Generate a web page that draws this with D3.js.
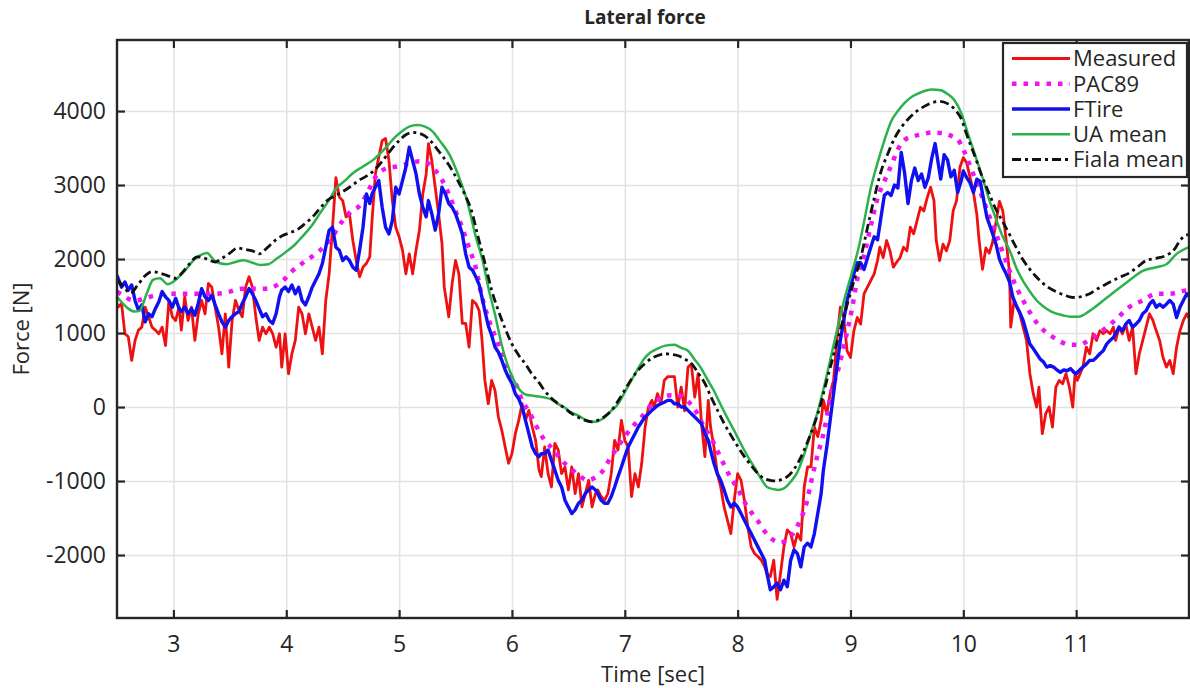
<!DOCTYPE html>
<html>
<head>
<meta charset="utf-8">
<script src="https://cdn.jsdelivr.net/npm/d3@7/dist/d3.min.js"></script>
<style>
  body { margin: 0; background: #fff; }
  text { font-family: "Open Sans", sans-serif; fill: #262626; }
</style>
</head>
<body>
<div id="chart"></div>
<script>
// ---- data: [time (s), force (N)] ----
const measured = [
  [2.50,1400],[2.51,1350],[2.54,1400],[2.57,990],[2.60,950],[2.63,630],[2.66,900],[2.69,1040],[2.72,1080],[2.75,1350],
  [2.78,1220],[2.81,1080],[2.84,1040],[2.87,990],[2.90,1080],[2.93,830],[2.96,1440],[2.99,1220],[3.02,1170],[3.05,1350],
  [3.07,1040],[3.10,1490],[3.13,1170],[3.16,1350],[3.19,900],[3.22,1260],[3.25,1440],[3.28,1260],[3.31,1670],[3.34,1620],
  [3.37,1350],[3.40,1080],[3.43,720],[3.46,1260],[3.49,540],[3.52,1170],[3.55,1440],[3.58,1310],[3.61,1220],[3.64,1620],
  [3.67,1760],[3.70,1620],[3.73,1220],[3.76,900],[3.79,1080],[3.82,990],[3.85,1080],[3.88,990],[3.91,810],[3.94,990],
  [3.96,540],[3.99,990],[4.02,450],[4.05,720],[4.08,900],[4.11,1350],[4.14,1260],[4.17,990],[4.20,1260],[4.23,1080],
  [4.26,900],[4.29,1080],[4.32,720],[4.35,1440],[4.38,1800],[4.41,2430],[4.44,3100],[4.47,2840],[4.50,2790],[4.53,2570],
  [4.56,2610],[4.59,2250],[4.62,1980],[4.65,1760],[4.68,1890],[4.71,1940],[4.74,2030],[4.76,2520],[4.79,3150],[4.82,3380],
  [4.85,3600],[4.88,3630],[4.91,3330],[4.94,2790],[4.97,2430],[5.00,2300],[5.03,2120],[5.06,1800],[5.09,2070],[5.12,1800],
  [5.15,2120],[5.18,2390],[5.21,2880],[5.24,3150],[5.26,3560],[5.29,3330],[5.32,2970],[5.35,2610],[5.38,2210],[5.40,1620],
  [5.44,1220],[5.47,1670],[5.50,1980],[5.53,1800],[5.56,1130],[5.59,1130],[5.62,810],[5.65,1440],[5.68,1400],[5.71,1300],
  [5.735,900],[5.76,360],[5.79,45],[5.82,360],[5.85,225],[5.88,-135],[5.91,-315],[5.94,-540],[5.97,-760],[6.00,-630],
  [6.03,-360],[6.06,-180],[6.09,45],[6.12,-180],[6.15,-45],[6.18,-270],[6.21,-450],[6.24,-850],[6.26,-940],[6.29,-540],
  [6.32,-900],[6.35,-1080],[6.38,-490],[6.41,-580],[6.44,-900],[6.47,-810],[6.50,-1120],[6.53,-810],[6.56,-1170],[6.59,-900],
  [6.62,-1350],[6.65,-1170],[6.68,-990],[6.71,-1350],[6.74,-1170],[6.76,-1120],[6.79,-1210],[6.82,-1260],[6.85,-1170],[6.88,-900],
  [6.91,-450],[6.94,-580],[6.97,-180],[7.00,-450],[7.03,-540],[7.06,-1210],[7.09,-900],[7.12,-1080],[7.15,-760],[7.18,-270],
  [7.21,0],[7.24,90],[7.26,0],[7.29,180],[7.32,45],[7.35,360],[7.38,410],[7.41,410],[7.44,410],[7.47,0],
  [7.50,270],[7.53,-50],[7.56,540],[7.59,580],[7.62,135],[7.65,450],[7.68,-225],[7.71,-670],[7.74,90],[7.76,-270],
  [7.79,-540],[7.82,-900],[7.85,-1080],[7.88,-1350],[7.91,-1530],[7.94,-1710],[7.97,-1260],[8.00,-900],[8.03,-990],[8.06,-1260],
  [8.09,-1620],[8.12,-1890],[8.15,-1980],[8.18,-2020],[8.21,-2070],[8.24,-2160],[8.26,-2250],[8.29,-2290],[8.32,-2070],[8.35,-2600],
  [8.38,-2250],[8.41,-1890],[8.44,-1660],[8.47,-1710],[8.50,-1890],[8.53,-1710],[8.56,-1800],[8.59,-1080],[8.62,-810],[8.65,-810],
  [8.68,-270],[8.71,-400],[8.74,-180],[8.76,90],[8.79,-90],[8.82,180],[8.85,360],[8.88,900],[8.91,1350],[8.94,1210],
  [8.97,760],[9.00,670],[9.03,1030],[9.06,1210],[9.09,1120],[9.12,1530],[9.15,1620],[9.18,1710],[9.21,1800],[9.24,1980],
  [9.26,2160],[9.29,2020],[9.32,2250],[9.35,2110],[9.38,1890],[9.41,1960],[9.44,2020],[9.47,2160],[9.50,2110],[9.53,2430],
  [9.56,2340],[9.59,2520],[9.62,2700],[9.65,2650],[9.68,2830],[9.71,2970],[9.74,2790],[9.76,2250],[9.79,1980],[9.82,2200],
  [9.85,2110],[9.88,2250],[9.91,2650],[9.94,2790],[9.97,3240],[10.00,3370],[10.03,3300],[10.06,3100],[10.09,2900],[10.12,2600],
  [10.14,2250],[10.17,1860],[10.20,2150],[10.23,2080],[10.26,2230],[10.29,2500],[10.32,2780],[10.35,2650],[10.38,2250],[10.41,1800],
  [10.42,1080],[10.45,1440],[10.50,1260],[10.56,900],[10.59,450],[10.62,180],[10.65,0],[10.67,270],[10.70,-360],[10.73,-90],
  [10.76,0],[10.79,-270],[10.82,270],[10.85,360],[10.88,315],[10.91,450],[10.94,270],[10.97,0],[10.99,450],[11.01,360],
  [11.06,540],[11.09,810],[11.12,720],[11.15,990],[11.18,900],[11.21,1030],[11.24,990],[11.27,1030],[11.30,990],[11.33,1080],
  [11.35,900],[11.38,1080],[11.41,990],[11.44,1120],[11.47,900],[11.50,1080],[11.53,450],[11.56,720],[11.59,900],[11.62,1080],
  [11.65,1260],[11.68,1170],[11.71,1030],[11.74,900],[11.77,670],[11.80,540],[11.83,630],[11.86,450],[11.89,810],[11.92,1030],
  [11.95,1170],[11.98,1260],[12.00,1200]
];

const pac89 = [
  [2.50,1560],[2.56,1500],[2.62,1450],[2.67,1440],[2.75,1470],[2.84,1510],[2.95,1530],[3.07,1530],[3.20,1530],[3.37,1530],
  [3.50,1560],[3.60,1600],[3.72,1600],[3.82,1600],[3.92,1650],[3.98,1720],[4.04,1820],[4.14,1940],[4.26,2070],[4.35,2190],
  [4.42,2330],[4.50,2520],[4.58,2650],[4.65,2720],[4.72,2900],[4.80,3130],[4.88,3220],[4.98,3250],[5.08,3290],[5.18,3320],
  [5.26,3290],[5.32,3200],[5.38,3070],[5.44,2880],[5.50,2650],[5.56,2420],[5.62,2150],[5.68,1880],[5.73,1520],[5.79,1200],
  [5.85,960],[5.91,720],[5.97,470],[6.03,330],[6.09,90],[6.15,-60],[6.21,-240],[6.29,-450],[6.37,-580],[6.44,-720],
  [6.52,-830],[6.60,-930],[6.67,-990],[6.73,-960],[6.79,-890],[6.88,-670],[6.94,-530],[7.00,-400],[7.06,-280],[7.14,-150],
  [7.24,30],[7.32,120],[7.41,160],[7.50,150],[7.56,80],[7.64,-80],[7.71,-290],[7.76,-400],[7.82,-590],[7.88,-780],
  [7.94,-960],[8.00,-1100],[8.06,-1280],[8.12,-1420],[8.18,-1540],[8.24,-1680],[8.30,-1780],[8.38,-1830],[8.47,-1750],[8.56,-1510],
  [8.61,-1300],[8.65,-1020],[8.70,-700],[8.77,-300],[8.83,200],[8.89,500],[8.95,880],[9.01,1300],[9.07,1800],[9.12,2050],
  [9.18,2450],[9.24,2820],[9.30,3050],[9.36,3260],[9.42,3480],[9.48,3610],[9.56,3660],[9.65,3690],[9.72,3710],[9.83,3700],
  [9.90,3660],[9.95,3620],[10.00,3480],[10.05,3300],[10.11,3060],[10.17,2830],[10.23,2580],[10.29,2340],[10.35,2090],[10.41,1840],
  [10.47,1620],[10.53,1440],[10.59,1280],[10.65,1140],[10.71,1040],[10.78,960],[10.88,870],[10.95,840],[11.02,840],[11.12,910],
  [11.24,1040],[11.35,1180],[11.47,1350],[11.59,1440],[11.71,1530],[11.83,1530],[11.95,1570],[12.00,1580]
];

const ftire = [
  [2.50,1780],[2.54,1620],[2.57,1690],[2.60,1580],[2.63,1650],[2.66,1440],[2.69,1310],[2.72,1380],[2.75,1150],[2.78,1260],
  [2.81,1220],[2.84,1330],[2.87,1420],[2.90,1560],[2.93,1490],[2.96,1440],[2.99,1350],[3.02,1470],[3.05,1330],[3.07,1290],
  [3.10,1350],[3.13,1260],[3.16,1330],[3.19,1240],[3.22,1400],[3.25,1600],[3.28,1490],[3.31,1440],[3.34,1510],[3.37,1380],
  [3.40,1260],[3.43,1150],[3.46,1080],[3.49,1170],[3.52,1220],[3.55,1260],[3.58,1290],[3.61,1400],[3.64,1490],[3.67,1600],
  [3.70,1530],[3.73,1440],[3.76,1330],[3.79,1220],[3.82,1260],[3.85,1170],[3.88,1130],[3.91,1260],[3.94,1490],[3.96,1580],
  [3.99,1620],[4.02,1560],[4.05,1650],[4.08,1530],[4.11,1620],[4.14,1440],[4.17,1380],[4.20,1490],[4.23,1620],[4.26,1710],
  [4.29,1800],[4.32,1940],[4.35,2160],[4.38,2390],[4.41,2430],[4.44,2160],[4.47,2120],[4.50,1980],[4.53,2030],[4.56,1980],
  [4.59,1890],[4.62,1850],[4.65,2120],[4.68,2430],[4.71,2880],[4.74,2750],[4.76,2880],[4.79,2970],[4.82,3060],[4.85,2700],
  [4.88,2430],[4.91,2340],[4.94,2520],[4.97,2970],[5.00,2880],[5.03,3060],[5.06,3240],[5.09,3510],[5.12,3330],[5.15,3150],
  [5.18,2880],[5.21,2700],[5.24,2570],[5.26,2790],[5.29,2610],[5.32,2390],[5.35,2610],[5.38,2970],[5.41,2880],[5.44,2750],
  [5.47,2700],[5.50,2610],[5.53,2480],[5.56,2340],[5.59,2070],[5.62,1890],[5.65,1850],[5.68,1760],[5.71,1650],[5.74,1440],
  [5.76,1300],[5.79,1100],[5.82,970],[5.85,810],[5.88,740],[5.91,630],[5.94,500],[5.97,400],[6.00,320],[6.03,180],
  [6.06,110],[6.09,0],[6.12,-180],[6.15,-360],[6.18,-540],[6.21,-630],[6.24,-670],[6.26,-630],[6.29,-630],[6.32,-580],
  [6.35,-720],[6.38,-850],[6.41,-990],[6.44,-1080],[6.47,-1260],[6.50,-1350],[6.53,-1440],[6.56,-1390],[6.59,-1300],[6.62,-1260],
  [6.65,-1170],[6.68,-1120],[6.71,-1080],[6.74,-1120],[6.76,-1170],[6.79,-1260],[6.82,-1300],[6.85,-1300],[6.88,-1210],[6.91,-1080],
  [6.94,-940],[6.97,-810],[7.00,-670],[7.03,-540],[7.06,-450],[7.09,-360],[7.12,-270],[7.15,-200],[7.18,-135],[7.21,-90],
  [7.24,-45],[7.26,-20],[7.29,20],[7.32,45],[7.35,65],[7.38,90],[7.41,90],[7.44,45],[7.47,45],[7.50,0],
  [7.53,0],[7.56,-45],[7.59,-90],[7.62,-135],[7.65,-180],[7.68,-225],[7.71,-360],[7.74,-450],[7.76,-580],[7.79,-760],
  [7.82,-900],[7.85,-990],[7.88,-1120],[7.91,-1260],[7.94,-1350],[7.97,-1300],[8.00,-1350],[8.03,-1440],[8.06,-1530],[8.09,-1620],
  [8.12,-1710],[8.15,-1800],[8.18,-1890],[8.21,-1980],[8.24,-2070],[8.26,-2250],[8.29,-2470],[8.32,-2430],[8.35,-2380],[8.38,-2470],
  [8.41,-2340],[8.44,-2430],[8.47,-2070],[8.50,-1930],[8.53,-1980],[8.56,-2160],[8.59,-1890],[8.62,-1840],[8.65,-1890],[8.68,-1710],
  [8.71,-1440],[8.74,-1170],[8.76,-850],[8.79,-540],[8.82,-180],[8.85,180],[8.88,540],[8.91,900],[8.94,1170],[8.97,1440],
  [9.00,1620],[9.03,1800],[9.06,1950],[9.09,1950],[9.12,1860],[9.15,2010],[9.18,2160],[9.21,2300],[9.24,2260],[9.27,2560],
  [9.30,2860],[9.33,2900],[9.36,2860],[9.39,3000],[9.42,2960],[9.45,3440],[9.48,3160],[9.51,2750],[9.54,3060],[9.57,3230],
  [9.60,3060],[9.63,3150],[9.66,2970],[9.69,3100],[9.72,3360],[9.75,3560],[9.78,3270],[9.80,3080],[9.83,3410],[9.86,3340],
  [9.89,3110],[9.92,3200],[9.95,2900],[9.98,3050],[10.00,3190],[10.03,3100],[10.06,3030],[10.09,2900],[10.12,3080],[10.15,3050],
  [10.18,2800],[10.21,2560],[10.24,2430],[10.26,2340],[10.29,2200],[10.32,2000],[10.35,1890],[10.38,1800],[10.41,1690],[10.44,1480],
  [10.47,1370],[10.50,1280],[10.53,1170],[10.56,1010],[10.59,850],[10.62,790],[10.65,720],[10.68,650],[10.71,610],[10.74,540],
  [10.77,560],[10.80,540],[10.83,500],[10.86,470],[10.89,500],[10.92,490],[10.95,520],[10.98,470],[11.00,450],[11.03,500],
  [11.06,540],[11.09,580],[11.12,630],[11.15,630],[11.18,670],[11.21,720],[11.24,760],[11.27,850],[11.30,900],[11.33,940],
  [11.35,990],[11.38,1080],[11.41,1030],[11.44,1120],[11.47,1170],[11.50,1080],[11.53,1120],[11.56,1170],[11.59,1260],[11.62,1300],
  [11.65,1390],[11.68,1440],[11.71,1350],[11.74,1390],[11.77,1350],[11.80,1390],[11.83,1440],[11.86,1390],[11.89,1210],[11.92,1350],
  [11.95,1440],[11.98,1530],[12.00,1500]
];

const uaMean = [
  [2.50,1490],[2.55,1400],[2.60,1330],[2.66,1290],[2.70,1300],[2.76,1520],[2.82,1720],[2.88,1740],[2.95,1660],[3.02,1720],
  [3.10,1840],[3.19,2000],[3.25,2060],[3.30,2080],[3.34,2020],[3.38,1960],[3.47,1930],[3.55,1960],[3.62,1985],[3.70,1950],
  [3.77,1920],[3.84,1930],[3.92,2010],[4.00,2100],[4.08,2200],[4.14,2300],[4.22,2440],[4.30,2620],[4.38,2800],[4.44,2950],
  [4.52,3060],[4.59,3160],[4.68,3250],[4.77,3340],[4.89,3520],[4.96,3640],[5.02,3720],[5.09,3790],[5.16,3810],[5.23,3790],
  [5.30,3720],[5.36,3600],[5.45,3400],[5.52,3150],[5.60,2800],[5.68,2300],[5.74,1980],[5.80,1550],[5.85,1250],[5.90,900],
  [5.95,620],[6.00,420],[6.06,250],[6.12,170],[6.20,150],[6.29,130],[6.34,110],[6.41,40],[6.46,0],[6.53,-80],
  [6.58,-110],[6.65,-170],[6.70,-195],[6.74,-200],[6.79,-170],[6.82,-140],[6.88,-50],[6.93,20],[7.00,200],[7.05,340],
  [7.11,500],[7.17,650],[7.23,740],[7.29,790],[7.36,830],[7.44,840],[7.50,800],[7.56,760],[7.62,640],[7.67,540],
  [7.73,380],[7.79,220],[7.85,30],[7.91,-150],[7.97,-320],[8.03,-500],[8.09,-670],[8.15,-820],[8.20,-950],[8.26,-1080],
  [8.32,-1110],[8.36,-1120],[8.41,-1100],[8.47,-1010],[8.53,-880],[8.59,-640],[8.65,-350],[8.71,-60],[8.77,300],[8.83,700],
  [8.89,1100],[8.95,1480],[9.01,1800],[9.07,2140],[9.12,2500],[9.18,2960],[9.24,3300],[9.30,3600],[9.36,3860],[9.42,4000],
  [9.48,4110],[9.55,4200],[9.62,4250],[9.72,4290],[9.80,4280],[9.86,4230],[9.92,4150],[9.98,3980],[10.05,3650],[10.11,3380],
  [10.17,3100],[10.23,2800],[10.29,2540],[10.35,2300],[10.41,2120],[10.47,1880],[10.53,1700],[10.59,1560],[10.65,1440],[10.71,1360],
  [10.78,1290],[10.88,1240],[10.95,1220],[11.02,1220],[11.12,1300],[11.24,1440],[11.35,1570],[11.47,1710],[11.59,1840],[11.71,1890],
  [11.80,1930],[11.89,2070],[12.00,2160]
];

const fialaMean = [
  [2.50,1720],[2.56,1620],[2.62,1540],[2.68,1640],[2.74,1760],[2.81,1830],[2.88,1810],[2.94,1780],[3.02,1740],[3.08,1820],
  [3.14,1930],[3.21,2030],[3.26,2020],[3.31,1990],[3.37,1960],[3.43,2010],[3.50,2080],[3.57,2150],[3.63,2130],[3.70,2110],
  [3.76,2070],[3.83,2150],[3.90,2250],[3.96,2310],[4.04,2360],[4.10,2400],[4.16,2470],[4.24,2580],[4.30,2690],[4.37,2800],
  [4.44,2860],[4.50,2910],[4.57,2980],[4.64,3060],[4.71,3120],[4.78,3200],[4.86,3340],[4.93,3480],[5.00,3600],[5.06,3680],
  [5.13,3710],[5.21,3680],[5.27,3610],[5.33,3500],[5.39,3380],[5.45,3250],[5.52,3060],[5.58,2880],[5.64,2660],[5.70,2300],
  [5.76,1950],[5.82,1580],[5.88,1300],[5.94,1060],[6.00,850],[6.06,700],[6.12,580],[6.18,440],[6.24,330],[6.29,220],
  [6.35,120],[6.41,45],[6.47,-20],[6.53,-90],[6.59,-140],[6.65,-180],[6.71,-200],[6.76,-180],[6.82,-130],[6.88,-50],
  [6.94,80],[7.00,230],[7.06,380],[7.12,500],[7.18,590],[7.24,660],[7.30,700],[7.36,720],[7.42,710],[7.48,690],
  [7.54,640],[7.59,590],[7.65,460],[7.71,320],[7.76,150],[7.82,-40],[7.88,-220],[7.94,-380],[8.00,-530],[8.06,-670],
  [8.12,-790],[8.18,-900],[8.24,-970],[8.29,-990],[8.35,-1000],[8.40,-970],[8.44,-940],[8.50,-840],[8.56,-680],[8.62,-470],
  [8.68,-230],[8.74,60],[8.79,360],[8.85,700],[8.91,1040],[8.97,1380],[9.03,1700],[9.09,2010],[9.15,2420],[9.21,2820],
  [9.27,3180],[9.33,3420],[9.39,3630],[9.45,3780],[9.51,3890],[9.58,3990],[9.65,4060],[9.72,4110],[9.79,4130],[9.86,4100],
  [9.92,4030],[9.98,3900],[10.04,3640],[10.10,3400],[10.16,3140],[10.22,2920],[10.28,2700],[10.34,2530],[10.40,2360],[10.46,2180],
  [10.52,2010],[10.58,1880],[10.64,1770],[10.70,1680],[10.76,1610],[10.82,1560],[10.88,1520],[10.94,1490],[11.00,1480],[11.06,1500],
  [11.12,1530],[11.18,1590],[11.24,1640],[11.30,1690],[11.38,1750],[11.47,1810],[11.55,1900],[11.62,1980],[11.71,2010],[11.80,2050],
  [11.87,2130],[11.92,2250],[11.97,2320],[12.00,2330]
];

const seriesNames = ['Measured', 'PAC89', 'FTire', 'UA mean', 'Fiala mean'];
const xTicks = [3, 4, 5, 6, 7, 8, 9, 10, 11];
const yTicks = [-2000, -1000, 0, 1000, 2000, 3000, 4000];
const xDomain = [2.5, 12];
const yDomain = [-2851, 4960];

// 配置参数
const config = {
  width: 1190,
  height: 688,
  margin: { top: 40, right: 1, bottom: 70, left: 117 },
  axisColor: '#262626',
  gridColor: '#e3e3e3'
};

const styles = [
  { color: '#ee1111', width: 2.8, dash: null, curve: d3.curveLinear },
  { color: '#f014f0', width: 4.5, dash: '4.5,7', curve: d3.curveMonotoneX },
  { color: '#1010f0', width: 3.4, dash: null, curve: d3.curveLinear },
  { color: '#2bb24c', width: 2.5, dash: null, curve: d3.curveMonotoneX },
  { color: '#111111', width: 2.8, dash: '9,4,3,4', curve: d3.curveMonotoneX }
];

function init() {
  const width = config.width - config.margin.left - config.margin.right;
  const height = config.height - config.margin.top - config.margin.bottom;

  const svg = d3.select('#chart').append('svg')
    .attr('width', config.width)
    .attr('height', config.height)
    .style('display', 'block');

  svg.append('rect').attr('width', config.width).attr('height', config.height).attr('fill', '#fff');

  const g = svg.append('g')
    .attr('transform', `translate(${config.margin.left},${config.margin.top})`);

  const x = d3.scaleLinear().domain(xDomain).range([0, width]);
  const y = d3.scaleLinear().domain(yDomain).range([height, 0]);

  // 网格
  g.append('g')
    .call(d3.axisBottom(x).tickValues(xTicks).tickSize(-height).tickFormat(''))
    .attr('transform', `translate(0,${height})`)
    .call(s => s.select('.domain').remove())
    .call(s => s.selectAll('line').attr('stroke', config.gridColor).attr('stroke-width', 1.5));
  g.append('g')
    .call(d3.axisLeft(y).tickValues(yTicks).tickSize(-width).tickFormat(''))
    .call(s => s.select('.domain').remove())
    .call(s => s.selectAll('line').attr('stroke', config.gridColor).attr('stroke-width', 1.5));

  // 曲线
  svg.append('defs').append('clipPath').attr('id', 'plot-clip')
    .append('rect').attr('width', width).attr('height', height);

  const plot = g.append('g').attr('clip-path', 'url(#plot-clip)');
  const allData = [measured, pac89, ftire, uaMean, fialaMean];

  allData.forEach((data, i) => {
    const st = styles[i];
    const line = d3.line()
      .x(d => x(d[0]))
      .y(d => y(d[1]))
      .curve(st.curve);
    plot.append('path')
      .datum(data)
      .attr('d', line)
      .attr('fill', 'none')
      .attr('stroke', st.color)
      .attr('stroke-width', st.width)
      .attr('stroke-linejoin', 'round')
      .attr('stroke-dasharray', st.dash);
  });

  // 坐标轴 (ticks inward on all four sides)
  const tickLen = 8;
  const plain = d => String(d);
  const xAxis = g.append('g')
    .attr('transform', `translate(0,${height})`)
    .call(d3.axisBottom(x).tickValues(xTicks).tickSize(-tickLen).tickPadding(18).tickFormat(plain));
  const xTop = g.append('g')
    .call(d3.axisTop(x).tickValues(xTicks).tickSize(-tickLen).tickFormat(''));
  const yAxis = g.append('g')
    .call(d3.axisLeft(y).tickValues(yTicks).tickSize(-tickLen).tickPadding(11).tickFormat(plain));
  const yRight = g.append('g')
    .attr('transform', `translate(${width},0)`)
    .call(d3.axisRight(y).tickValues(yTicks).tickSize(-tickLen).tickFormat(''));

  [xAxis, xTop, yAxis, yRight].forEach(a => {
    a.select('.domain').remove();
    a.selectAll('line').attr('stroke', config.axisColor).attr('stroke-width', 2.2);
    a.selectAll('text')
      .style('font-family', '"Open Sans", sans-serif')
      .style('font-size', '23px')
      .attr('fill', config.axisColor);
  });

  g.append('rect')
    .attr('width', width)
    .attr('height', height)
    .attr('fill', 'none')
    .attr('stroke', config.axisColor)
    .attr('stroke-width', 2.4);

  // 标题和轴标签
  svg.append('text')
    .attr('x', 645)
    .attr('y', 24)
    .attr('text-anchor', 'middle')
    .style('font-size', '19px')
    .style('font-weight', 'bold')
    .text('Lateral force');

  svg.append('text')
    .attr('x', 653)
    .attr('y', 682)
    .attr('text-anchor', 'middle')
    .style('font-size', '22px')
    .text('Time [sec]');

  svg.append('text')
    .attr('transform', 'translate(29,329) rotate(-90)')
    .attr('text-anchor', 'middle')
    .style('font-size', '22px')
    .text('Force [N]');

  // 图例
  const legend = svg.append('g').attr('transform', 'translate(1003,43)');
  legend.append('rect')
    .attr('width', 184)
    .attr('height', 134)
    .attr('fill', '#fff')
    .attr('stroke', config.axisColor)
    .attr('stroke-width', 2.2);

  const rowY = d3.scaleLinear().domain([0, seriesNames.length - 1]).range([15.5, 116.5]);
  seriesNames.forEach((name, i) => {
    const st = styles[i];
    const yy = rowY(i);
    legend.append('line')
      .attr('x1', 9).attr('x2', 67)
      .attr('y1', yy).attr('y2', yy)
      .attr('stroke', st.color)
      .attr('stroke-width', st.width)
      .attr('stroke-dasharray', st.dash);
    legend.append('text')
      .attr('x', 70)
      .attr('y', yy)
      .attr('dy', '0.36em')
      .style('font-size', '22px')
      .text(name);
  });
}

window.addEventListener('DOMContentLoaded', init);
</script>
</body>
</html>
